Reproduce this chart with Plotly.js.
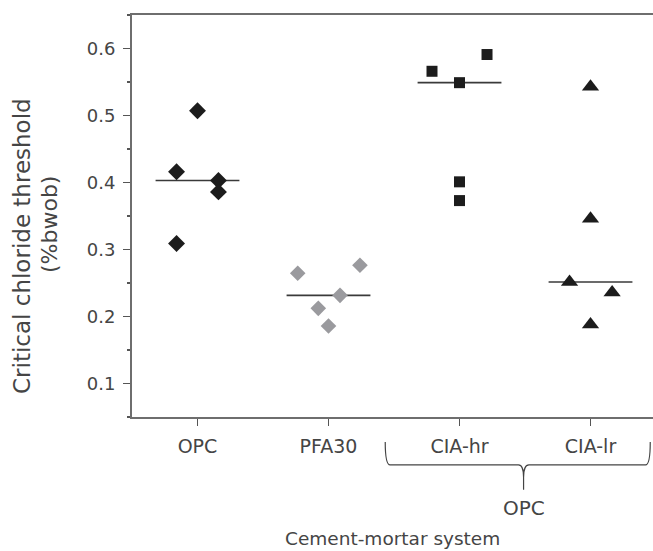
<!DOCTYPE html>
<html>
<head>
<meta charset="utf-8">
<script src="https://cdn.plot.ly/plotly-3.0.1.min.js"></script>
<style>html,body{margin:0;padding:0;overflow:hidden;background:#fff;}</style>
</head>
<body>
<div id="chart" style="width:653px;height:551px;"></div>
<script>
// ---- data ----
const categories = ['OPC', 'PFA30', 'CIA-hr', 'CIA-lr'];
const opcValues   = [0.507, 0.416, 0.403, 0.386, 0.309];
const pfa30Values = [0.2645, 0.2764, 0.2316, 0.2122, 0.1858];
const ciaHrValues = [0.591, 0.566, 0.549, 0.401, 0.373];
const ciaLrValues = [0.543, 0.346, 0.2515, 0.236, 0.188];
// horizontal jitter (category units) of each point
const opcJitter   = [0, -0.16, 0.16, 0.16, -0.16];
const pfa30Jitter = [-0.235, 0.24, 0.088, -0.078, 0];
const ciaHrJitter = [0.21, -0.21, 0, 0, 0];
const ciaLrJitter = [0, 0, -0.16, 0.165, 0];
const yTickValues = [0.1, 0.2, 0.3, 0.4, 0.5, 0.6];
const groupLabel = 'OPC';
const xTitle = 'Cement-mortar system';
const yTitleLines = ['Critical chloride threshold', '(%bwob)'];

function median(a) {
  const s = a.slice().sort((p, q) => p - q);
  const m = Math.floor(s.length / 2);
  return s.length % 2 ? s[m] : (s[m - 1] + s[m]) / 2;
}

const groups = [
  {vals: opcValues,   jit: opcJitter,   symbol: 'diamond',     size: 13, color: '#1c1c1c'},
  {vals: pfa30Values, jit: pfa30Jitter, symbol: 'diamond',     size: 12, color: '#9a9a9e'},
  {vals: ciaHrValues, jit: ciaHrJitter, symbol: 'square',      size: 11, color: '#1c1c1c'},
  {vals: ciaLrValues, jit: ciaLrJitter, symbol: 'triangle-up', size: 15, color: '#1c1c1c'}
];

const traces = [];
groups.forEach((g, i) => {
  const m = median(g.vals);
  traces.push({
    x: [i - 0.32, i + 0.32], y: [m, m], mode: 'lines', type: 'scatter',
    line: {color: '#3a3a3a', width: 1.6}, hoverinfo: 'skip', showlegend: false
  });
});
groups.forEach((g, i) => {
  traces.push({
    x: g.vals.map((v, k) => i + g.jit[k]), y: g.vals, mode: 'markers', type: 'scatter',
    marker: {symbol: g.symbol, size: g.size, color: g.color, line: {width: 0}},
    showlegend: false, name: categories[i]
  });
});

const fam = '"DejaVu Sans", Verdana, sans-serif';
const txt = '#454545';
const f = s => ({family: fam, size: s, color: txt});

const layout = {
  width: 653, height: 551,
  margin: {l: 132, r: 0, t: 15, b: 134, pad: 0},
  paper_bgcolor: '#fff', plot_bgcolor: '#fff',
  font: f(19),
  showlegend: false,
  xaxis: {
    range: [-0.5, 3.477], tickmode: 'array', tickvals: categories.map((c, i) => i), ticktext: categories,
    showgrid: false, zeroline: false, showline: true, linecolor: '#6e6e6e', linewidth: 2, mirror: true,
    ticks: 'outside', ticklen: 7, tickwidth: 1.5, tickcolor: '#555', tickfont: f(19), ticklabelstandoff: 4
  },
  yaxis: {
    range: [0.05, 0.65], tickmode: 'array', tickvals: yTickValues, ticktext: yTickValues.map(v => v.toFixed(1)),
    showgrid: false, zeroline: false, showline: true, linecolor: '#6e6e6e', linewidth: 2,
    ticks: 'outside', ticklen: 7, tickwidth: 1.5, tickcolor: '#555', tickfont: f(18), ticklabelstandoff: 4,
    minor: {dtick: 0.05, tick0: 0.05, ticks: 'outside', ticklen: 3, tickwidth: 1.2, tickcolor: '#555', showgrid: false}
  },
  shapes: [{
    type: 'path', xref: 'x', yref: 'paper',
    path: 'M 1.433,-0.062 Q 1.433,-0.119 1.47,-0.119 L 2.45,-0.119 Q 2.489,-0.119 2.489,-0.15 L 2.489,-0.181 ' +
          'M 2.489,-0.15 Q 2.489,-0.119 2.53,-0.119 L 3.42,-0.119 Q 3.456,-0.119 3.456,-0.062',
    line: {color: '#444', width: 1.2}
  }],
  annotations: [
    {text: groupLabel, xref: 'x', yref: 'paper', x: 2.489, y: -0.226, xanchor: 'center', yanchor: 'middle',
     showarrow: false, font: f(20)},
    {text: xTitle, xref: 'paper', yref: 'paper', x: 0.5, y: -0.303, xanchor: 'center', yanchor: 'middle',
     showarrow: false, font: f(18.5)},
    {text: yTitleLines[0], xref: 'paper', yref: 'paper', x: -0.2111, y: 0.4254,
     xanchor: 'center', yanchor: 'middle', textangle: -90, showarrow: false, font: f(23)},
    {text: yTitleLines[1], xref: 'paper', yref: 'paper', x: -0.1593, y: 0.4776,
     xanchor: 'center', yanchor: 'middle', textangle: -90, showarrow: false, font: f(22)}
  ]
};

Plotly.newPlot('chart', traces, layout, {displayModeBar: false, staticPlot: true});
</script>
</body>
</html>
